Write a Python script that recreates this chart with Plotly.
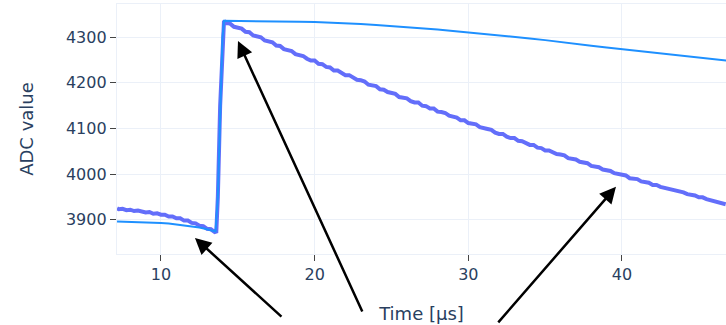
import plotly.graph_objects as go

# Measured ADC trace (noisy) around the step
t_meas = [7.14, 7.25, 7.5, 7.75, 8.0, 8.25, 8.5, 8.75, 9.0, 9.25, 9.5, 9.75, 10.0, 10.25, 10.5,
          10.75, 11.0, 11.25, 11.5, 11.75, 12.0, 12.25, 12.5, 12.75, 13.0, 13.25, 13.5, 13.6,
          13.7, 13.85, 14.0, 14.1,
          14.25, 14.5, 14.75, 15.0, 15.25, 15.5, 15.75, 16.0, 16.25, 16.5, 16.75, 17.0, 17.25,
          17.5, 17.75, 18.0, 18.25, 18.5, 18.75, 19.0, 19.25, 19.5, 19.75, 20.0, 20.25, 20.5,
          20.75, 21.0, 21.25, 21.5, 21.75, 22.0, 22.25, 22.5, 22.75, 23.0, 23.25, 23.5, 23.75,
          24.0, 24.25, 24.5, 24.75, 25.0, 25.25, 25.5, 25.75, 26.0, 26.25, 26.5, 26.75, 27.0,
          27.25, 27.5, 27.75, 28.0, 28.25, 28.5, 28.75, 29.0, 29.25, 29.5, 29.75, 30.0, 30.25,
          30.5, 30.75, 31.0, 31.25, 31.5, 31.75, 32.0, 32.25, 32.5, 32.75, 33.0, 33.25, 33.5,
          33.75, 34.0, 34.25, 34.5, 34.75, 35.0, 35.25, 35.5, 35.75, 36.0, 36.25, 36.5, 36.75,
          37.0, 37.25, 37.5, 37.75, 38.0, 38.25, 38.5, 38.75, 39.0, 39.25, 39.5, 39.75, 40.0,
          40.25, 40.5, 40.75, 41.0, 41.25, 41.5, 41.75, 42.0, 42.25, 42.5, 42.75, 43.0, 43.25,
          43.5, 43.75, 44.0, 44.25, 44.5, 44.75, 45.0, 45.25, 45.5, 45.75, 46.0, 46.25, 46.5,
          46.75]
adc_meas = [3925, 3923, 3924, 3921, 3922, 3919, 3920, 3917, 3916, 3917, 3913, 3914, 3911, 3911, 3907,
            3907, 3903, 3903, 3898, 3898, 3893, 3892, 3887, 3886, 3880, 3879, 3873, 3874,
            3950, 4150, 4300, 4336,
            4331, 4330, 4323, 4322, 4319, 4312, 4311, 4304, 4303, 4300, 4293, 4290, 4289,
            4282, 4281, 4274, 4273, 4270, 4263, 4262, 4259, 4253, 4249, 4249, 4242, 4241,
            4235, 4234, 4227, 4227, 4221, 4217, 4217, 4211, 4207, 4206, 4203, 4196, 4195,
            4193, 4186, 4185, 4180, 4179, 4176, 4169, 4168, 4166, 4160, 4157, 4157, 4150,
            4149, 4144, 4144, 4137, 4136, 4134, 4128, 4125, 4124, 4118, 4118, 4112, 4111,
            4109, 4103, 4100, 4099, 4097, 4091, 4088, 4088, 4082, 4079, 4079, 4073, 4072,
            4067, 4064, 4064, 4058, 4057, 4052, 4052, 4047, 4044, 4043, 4041, 4035, 4033,
            4032, 4027, 4026, 4024, 4018, 4017, 4015, 4010, 4008, 4007, 4002, 4001, 3998,
            3997, 3991, 3990, 3989, 3984, 3983, 3981, 3976, 3976, 3972, 3970, 3967, 3967,
            3963, 3961, 3960, 3956, 3955, 3953, 3949, 3949, 3945, 3943, 3942, 3938, 3937,
            3934]

# Fitted model curve
t_fit = [7.14, 8.0, 9.0, 10.0, 10.5, 11.0, 11.5, 12.0, 12.5, 13.0, 13.25, 13.55,
         13.7, 13.85, 14.0, 14.1,
         15.0, 16.0, 17.0, 18.0, 19.0, 20.0, 21.0, 22.0, 23.0, 24.0, 25.0, 26.0, 27.0,
         28.0, 29.0, 30.0, 31.0, 32.0, 33.0, 34.0, 35.0, 36.0, 37.0, 38.0, 39.0, 40.0,
         41.0, 42.0, 43.0, 44.0, 45.0, 46.0, 46.8]
adc_fit = [3896, 3895.5, 3894.5, 3893, 3891.8, 3890, 3888.2, 3886, 3883, 3879, 3876.8, 3874,
           3950, 4150, 4300, 4336,
           4335.9, 4335.7, 4335.3, 4334.8, 4334.2, 4333.5, 4332.3, 4330.8, 4329, 4327,
           4324.8, 4322.4, 4319.8, 4317, 4314, 4311, 4307.8, 4304.5, 4301, 4297.5, 4293.8,
           4289.2, 4285.4, 4281.6, 4277.8, 4274, 4270.3, 4266.6, 4262.9, 4259.2, 4255.5,
           4251.8, 4248.8]

# Arrow targets (data coords) and tail offsets (px)
arrow_x = [12.21, 15.01, 39.61]
arrow_y = [3860, 4292, 3972]
arrow_ax = [88, 125, -119]
arrow_ay = [80, 272, 137]

font_family = "Verdana, DejaVu Sans, sans-serif"
text_color = "#2a3f5f"
grid_color = "#EBF0F8"

fig = go.Figure()
fig.add_trace(go.Scatter(x=t_meas, y=adc_meas, mode="lines",
                         line=dict(color="#636efa", width=4), showlegend=False))
fig.add_trace(go.Scatter(x=t_fit, y=adc_fit, mode="lines",
                         line=dict(color="#1E90FF", width=2), showlegend=False))

for x, y, ax, ay in zip(arrow_x, arrow_y, arrow_ax, arrow_ay):
    fig.add_annotation(x=x, y=y, ax=ax, ay=ay, text="", showarrow=True,
                       arrowhead=2, arrowsize=1.3, arrowwidth=2.5, arrowcolor="black")

fig.update_layout(
    width=726, height=325,
    margin=dict(l=117, r=0, t=4, b=71),
    paper_bgcolor="white", plot_bgcolor="white",
    font=dict(family=font_family, color=text_color, size=16),
)
fig.update_xaxes(
    range=[7.137, 46.77], tickvals=[10, 20, 30, 40],
    title=dict(text="Time [µs]", font=dict(size=18), standoff=24),
    showgrid=True, gridcolor=grid_color, gridwidth=1.3,
    showline=True, linecolor=grid_color, linewidth=1.3, mirror=True,
    ticks="outside", ticklen=6, tickwidth=1.3, tickcolor="#444",
    zeroline=False,
)
fig.update_yaxes(
    range=[3824.8, 4373.0], tickvals=[3900, 4000, 4100, 4200, 4300],
    title=dict(text="ADC value", font=dict(size=18), standoff=27),
    showgrid=True, gridcolor=grid_color, gridwidth=1.3,
    showline=True, linecolor=grid_color, linewidth=1.3, mirror=True,
    ticks="outside", ticklen=6, tickwidth=1.3, tickcolor="#444",
    zeroline=False,
)

fig.write_html("out.html")
